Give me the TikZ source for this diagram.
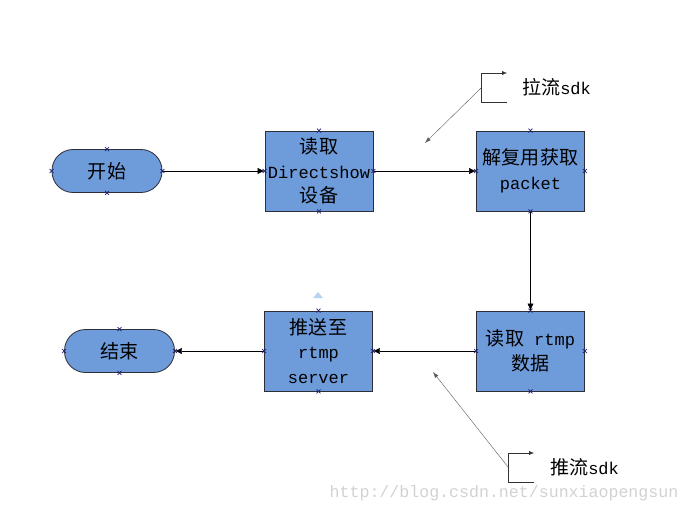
\documentclass[tikz,border=0pt]{standalone}
\usepackage{fontspec}
\setmainfont{Liberation Mono}
\newfontfamily\cjk[Scale=1.12]{Noto Sans CJK SC}
\usetikzlibrary{arrows.meta}
\usetikzlibrary{shapes}
\definecolor{boxblue}{HTML}{6E9BDA}
\definecolor{edgegray}{HTML}{2E2E38}
\definecolor{tipblue}{HTML}{B8D3EE}

\begin{document}
\begin{tikzpicture}
    [   x = 1pt, y = -1pt
    ,   > = {Latex[length=7pt,width=6pt]}
    ,   proc/.style = {draw = edgegray, line width = 0.8pt, fill = boxblue,
                       minimum width = 108, minimum height = 80, inner sep = 0pt,
                       align = center, font = \fontsize{17}{24.5}\selectfont}
    ,   term/.style = {proc, rounded corners = 21pt, minimum width = 110,
                       minimum height = 43}
    ,   note/.style = {anchor = west, inner sep = 0pt, font = \fontsize{17}{20}\selectfont}
    ,   cmark/.style = {draw = edgegray!70!blue, line width = 0.6pt}
    ]
    \useasboundingbox (0,0) rectangle (688,513);

    % flow
    \node[term] (start) at (107,171)   {{\cjk 开始}};
    \node[proc] (read)  at (319,171)   {{\cjk 读取}\\Directshow\\{\cjk 设备}};
    \node[proc] (demux) at (530.5,171) {{\cjk 解复用获取}\\packet};
    \node[proc] (recv)  at (530.5,351) {{\cjk 读取} rtmp\\{\cjk 数据}};
    \node[proc] (push)  at (318.5,351) {{\cjk 推送至}\\rtmp\\server};
    \node[term] (stop)  at (119.5,351) {{\cjk 结束}};

    \draw[->] (start) -- (read);
    \draw[->] (read) -- (demux);
    \draw[->] (demux) -- (recv);
    \draw[->] (recv) -- (push);
    \draw[->] (push) -- (stop);

    % connection points
    \foreach \n in {start,read,demux,recv,push,stop}
        \foreach \a in {north,south,east,west}
            \draw[cmark] (\n.\a) ++(-2,-2) -- ++(4,4) ++(0,-4) -- ++(-4,4);

    \fill[tipblue] (313,298) -- (323,298) -- (318,292) -- cycle;

    % sdk notes
    \coordinate (pull) at (481,88);
    \coordinate (pulltip) at (425,143);
    \draw[->, > = {Latex[length=5pt,width=4pt]}, gray!40!black]
        ([shift={(26,14)}]pull) -- ++(-26,0) -- ++(0,-29) -- ++(26,0);
    \draw[->, > = {Latex[length=6pt,width=4pt]}, gray!70!black] (pull) -- (pulltip);
    \node[note] (pulllbl) at (522,87) {{\cjk 拉流}sdk};

    \coordinate (send) at (508,467);
    \coordinate (sendtip) at (433,372);
    \draw[->, > = {Latex[length=5pt,width=4pt]}, gray!40!black]
        ([shift={(26,15)}]send) -- ++(-26,0) -- ++(0,-29) -- ++(26,0);
    \draw[->, > = {Latex[length=6pt,width=4pt]}, gray!70!black] (send) -- (sendtip);
    \node[note] (sendlbl) at (550,467) {{\cjk 推流}sdk};

    \node[inner sep = 0pt, text = gray!35, font = \fontsize{16.6}{18}\selectfont]
        (url) at (504,493) {http://blog.csdn.net/sunxiaopengsun};
\end{tikzpicture}
\end{document}
